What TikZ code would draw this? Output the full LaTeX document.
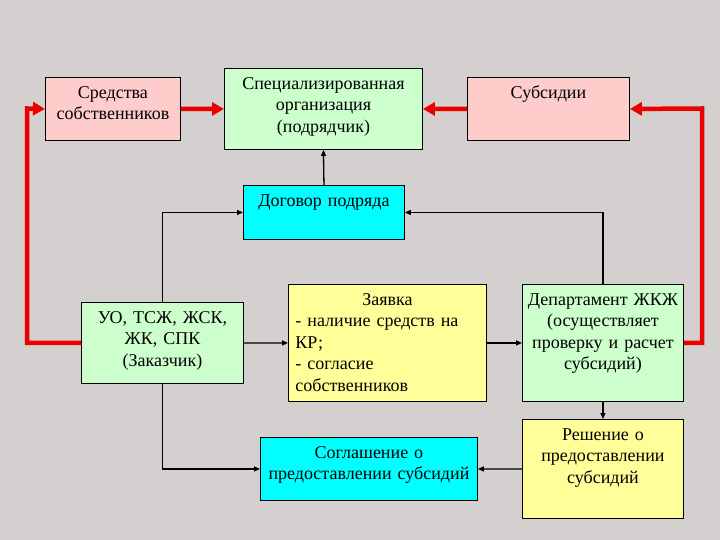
\documentclass[tikz,border=0pt]{standalone}
\usepackage{fontspec}
\setmainfont{Liberation Serif}
\usetikzlibrary{arrows.meta}

\definecolor{bggray}{RGB}{212,208,208}
\definecolor{pinkbox}{RGB}{255,204,204}
\definecolor{greenbox}{RGB}{204,255,204}
\definecolor{cyanbox}{RGB}{0,255,255}
\definecolor{yellowbox}{RGB}{255,255,153}
\definecolor{redline}{RGB}{235,0,0}

\begin{document}
\begin{tikzpicture}[x=1bp,y=-1bp,
    every node/.style={draw=black, line width=.9bp, anchor=north west,
        align=center, inner xsep=2bp, inner ysep=0pt, text height=21bp,
        font=\fontsize{18bp}{21.5bp}\selectfont},
    redarrow/.style={draw=redline, line width=4.5bp,
        -{Triangle[length=12bp,width=13bp]}},
    blackarrow/.style={draw=black, line width=1.3bp,
        -{Triangle[length=6bp,width=5bp]}}]
    \fill[bggray] (0,0) rectangle (720,540);
    % top row
    \node[fill=pinkbox, text width=131bp, text depth=42bp] (sredstva) at (45,77)
        {Средства\\собственников};
    \node[fill=greenbox, text width=194bp, text depth=60bp] (spec) at (224,68)
        {Специализированная\\организация\\(подрядчик)};
    \node[fill=pinkbox, text width=158bp, text depth=42bp] (subs) at (467,77)
        {Субсидии};
    \node[fill=cyanbox, text width=157bp, text depth=33bp] (dogovor) at (243,185)
        {Договор подряда};
    % middle row
    \node[fill=greenbox, text width=158bp, text depth=60bp] (uo) at (81,302)
        {УО, ТСЖ, ЖСК,\\ЖК, СПК\\(Заказчик)};
    \node[fill=yellowbox, align=left, inner xsep=7bp, text width=184bp,
        text depth=96bp] (zayavka) at (288,284)
        {\hfill Заявка\hfill\null\\- наличие средств на\\КР;\\- согласие\\собственников};
    \node[fill=greenbox, text width=157bp, text depth=96bp] (dept) at (522,284)
        {Департамент ЖКЖ\\(осуществляет\\проверку и расчет\\субсидий)};
    % bottom row
    \node[fill=yellowbox, text width=157bp, text depth=78bp] (reshenie) at (522,419)
        {Решение о\\предоставлении\\субсидий};
    \node[fill=cyanbox, text width=213bp, text depth=42bp] (soglash) at (260,437)
        {Соглашение о\\предоставлении субсидий};
    \coordinate (lbend) at (27,108.5);
    \coordinate (rbend) at (702,108.5);

    \draw[redarrow] (uo.west) -| (lbend) -- (sredstva.west);
    \draw[redarrow] (sredstva.east) -- (spec.west);
    \draw[redarrow] (subs.west) -- (spec.east);
    \draw[redarrow] (dept.east) -| (rbend) -- (subs.east);

    \draw[blackarrow] (dogovor.north) -- (spec.south);
    \draw[blackarrow] (uo.north) |- (dogovor.west);
    \draw[blackarrow] (dept.north) |- (dogovor.east);
    \draw[blackarrow] (uo.east) -- (zayavka.west);
    \draw[blackarrow] (zayavka.east) -- (dept.west);
    \draw[blackarrow] (dept.south) -- (reshenie.north);
    \draw[blackarrow] (reshenie.west) -- (soglash.east);
    \draw[blackarrow] (uo.south) |- (soglash.west);
\end{tikzpicture}
\end{document}
